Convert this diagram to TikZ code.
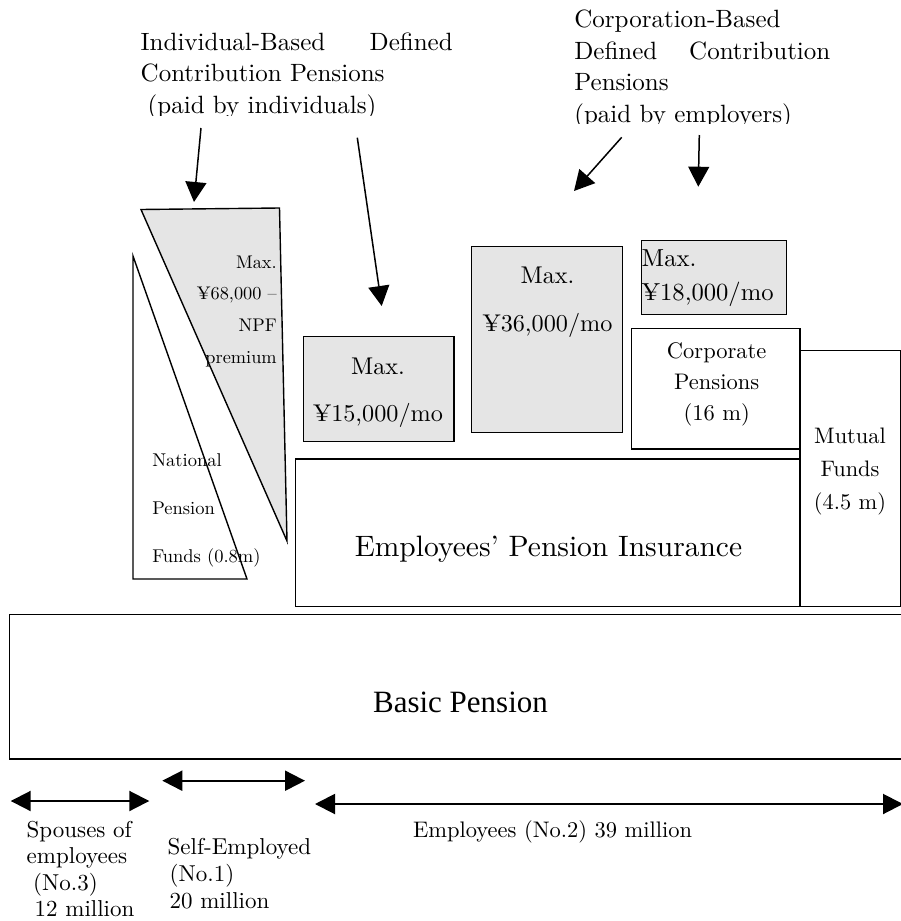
\documentclass[tikz,border=0pt]{standalone}
\usepackage{fontspec}
\setmainfont{lmroman10-regular}[Extension=.otf]
\newfontfamily\libserif{Liberation Serif}
\usetikzlibrary{arrows.meta}
\newcommand\txtL[3]{\vtop{\fontsize{#1}{#2}\selectfont\halign{##\hfil\cr#3\crcr}}}
\newcommand\txtC[3]{\vtop{\fontsize{#1}{#2}\selectfont\halign{\hfil##\hfil\cr#3\crcr}}}
\newcommand\txtR[3]{\vtop{\fontsize{#1}{#2}\selectfont\halign{\hfil##\cr#3\crcr}}}
\definecolor{shade}{gray}{0.9}
\tikzset{
  box/.style={draw, line width=1.4pt, inner sep=0pt, anchor=north west, fill=white},
  gbox/.style={box, fill=shade},
  tx/.style={inner sep=0pt, outer sep=0pt},
  arr/.style={line width=1.5pt, -{Triangle[length=20pt,width=21pt]}},
  darr/.style={line width=2pt, {Triangle[length=20pt,width=20pt]}-{Triangle[length=20pt,width=20pt]}},
}
\begin{document}
\begin{tikzpicture}[x=1pt,y=-1pt]
\useasboundingbox (0,0) rectangle (901,921);
\fill[white] (0,0) rectangle (901,921);

% titles (bottom lines clipped as in the original)
\begin{scope}
\clip (100,0) rectangle (480,115);
\node[tx, anchor=base west] (ttlI) at (140.7,50)
  {\txtL{25}{31.5}{\hbox to 312pt{Individual-Based\hfill Defined}\cr Contribution Pensions\cr \kern7pt(paid by individuals)}};
\end{scope}
\begin{scope}
\clip (560,0) rectangle (880,123.5);
\node[tx, anchor=base west] (ttlC) at (574.3,27.5)
  {\txtL{25}{31.6}{Corporation-Based\cr \hbox to 256pt{Defined\hfill Contribution}\cr Pensions\cr (paid by employers)}};
\end{scope}

% triangles
\draw[line width=1.4pt, fill=white] (133,256) -- (133,579) -- (247,579) -- cycle;
\draw[line width=1.4pt, fill=shade] (141,209.5) -- (279.5,208) -- (287,541) -- cycle;

% boxes
\node[gbox, minimum width=150.6pt, minimum height=105pt] (b15) at (302.7,335.7) {};
\node[gbox, minimum width=151pt, minimum height=186pt] (b36) at (471,246) {};
\node[gbox, minimum width=145.3pt, minimum height=74pt] (b18) at (640.7,240) {};
\node[box, minimum width=168.3pt, minimum height=120.5pt] (corp) at (631,327.7) {};
\node[box, minimum width=504.3pt, minimum height=147.4pt] (epi) at (295,458.3) {};
\node[box, minimum width=100.7pt, minimum height=255.7pt] (mut) at (799.3,350) {};
\node[box, minimum width=905pt, minimum height=144.3pt] (basic) at (9,614) {};

% texts in shapes
\node[tx, anchor=base east] (tNPFmax) at (276.7,268)
  {\txtR{18.3}{31.7}{Max.\cr ¥68,000 –\cr NPF\cr premium}};
\node[tx, anchor=base west] (tNPF) at (152.3,466)
  {\txtL{18.5}{48}{National\cr Pension\cr Funds (0.8m)}};
\node[tx, anchor=base] (t15) at (378,374) {\txtC{24.2}{47.7}{Max.\cr ¥15,000/mo}};
\node[tx, anchor=base] (t36) at (547.5,283) {\txtC{24.2}{48}{Max.\cr ¥36,000/mo}};
\node[tx, anchor=base west] (t18) at (641.7,266.7) {\txtL{24.6}{33.3}{Max.\cr ¥18,000/mo}};
\node[tx, anchor=base] (tcorp) at (716.7,358) {\txtC{22.5}{31}{Corporate\cr Pensions\cr (16 m)}};
\node[tx, anchor=base] (tmut) at (850,443) {\txtC{22.4}{33}{Mutual\cr Funds\cr (4.5 m)}};
\node[tx, anchor=base] (tepi) at (548.5,556) {\fontsize{29.5}{34}\selectfont Employees’ Pension Insurance};
\node[tx, anchor=base] (tbasic) at (460.5,712) {\libserif\fontsize{31}{36}\selectfont Basic Pension};

% bottom labels
\node[tx, anchor=base west] (tsp) at (26.7,837)
  {\txtL{23}{26.5}{Spouses of\cr employees\cr \kern6.5pt(No.3)\cr \kern8pt12 million}};
\node[tx, anchor=base west] (tse) at (167.7,854.3)
  {\txtL{23}{27}{Self-Employed\cr \kern2pt(No.1)\cr \kern2pt20 million}};
\node[tx, anchor=base west] (tem) at (413,837) {\fontsize{22.5}{27}\selectfont Employees (No.2) 39 million};

% arrows from titles
\coordinate (a1s) at (201,128);   \coordinate (a1e) at (194,202);
\coordinate (a2s) at (357.3,137.7); \coordinate (a2e) at (381.7,306);
\coordinate (a3s) at (621.7,137.3); \coordinate (a3e) at (574,191);
\coordinate (a4s) at (699.3,135); \coordinate (a4e) at (698.3,186.7);
\draw[arr] (a1s) -- (a1e);
\draw[arr] (a2s) -- (a2e);
\draw[arr] (a3s) -- (a3e);
\draw[arr] (a4s) -- (a4e);

% bottom double arrows
\coordinate (d1a) at (10.7,801); \coordinate (d1b) at (149.3,801);
\coordinate (d2a) at (162.3,780.7); \coordinate (d2b) at (305,780.7);
\coordinate (d3a) at (315,804); \coordinate (d3b) at (903,804);
\draw[darr] (d1a) -- (d1b);
\draw[darr] (d2a) -- (d2b);
\draw[darr] (d3a) -- (d3b);
\end{tikzpicture}
\end{document}
